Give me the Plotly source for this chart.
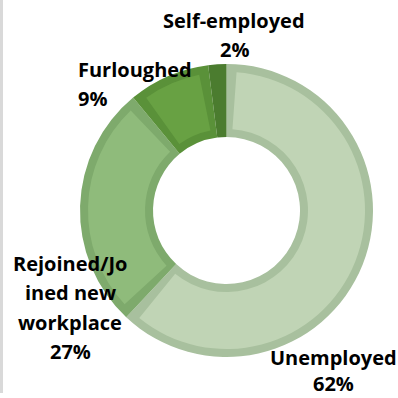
import plotly.graph_objects as go

categories = ["Unemployed", "Rejoined/Joined new workplace", "Furloughed", "Self-employed"]
label_text = ["Unemployed", "Rejoined/Jo<br>ined new<br>workplace", "Furloughed", "Self-employed"]
values = [62, 27, 9, 2]

fill_colors = ["#c0d4b5", "#8fbb7b", "#68a143", "#4b7c2f"]
border_colors = ["#a8c09e", "#7eaa6c", "#5a9139", "#4b7c2f"]

W = H = 398
cx, cy = 226.5, 210.5
R_out, R_in, bw = 146.5, 73.5, 8

def dom(r):
    return dict(x=[(cx - r) / W, (cx + r) / W], y=[1 - (cy + r) / H, 1 - (cy - r) / H])

total = sum(values)
gap = (bw / ((R_out + R_in) / 2)) / (2 * 3.14159265) * total * 2
vals_b, cols_b = [], []
for v, c in zip(values, fill_colors):
    f = max(v - gap, 0)
    g = (v - f) / 2
    vals_b += [g, f, g]
    cols_b += ["rgba(0,0,0,0)", c, "rgba(0,0,0,0)"]

fig = go.Figure()
fig.add_trace(go.Pie(
    values=values, labels=categories, sort=False, direction="clockwise", rotation=0,
    hole=R_in / R_out, domain=dom(R_out),
    marker=dict(colors=border_colors, line=dict(width=0)),
    textinfo="none", hoverinfo="label+percent", showlegend=False,
))
fig.add_trace(go.Pie(
    values=vals_b, sort=False, direction="clockwise", rotation=0,
    hole=(R_in + bw) / (R_out - bw), domain=dom(R_out - bw),
    marker=dict(colors=cols_b, line=dict(width=0)),
    textinfo="none", hoverinfo="skip", showlegend=False,
))

font = dict(family="Open Sans, sans-serif", size=20, color="#000000")
label_pos = [(333, 357, "center", 26.5), (70, 263, "center", 29.5), (77, 69, "left", 29.5), (234, 20, "center", 29.5)]
for txt, v, (x, y, al, line_h) in zip(label_text, values, label_pos):
    lines = txt.split("<br>") + [f"{v}%"]
    for i, ln in enumerate(lines):
        fig.add_annotation(x=x / W, y=1 - (y + i * line_h) / H, xref="paper", yref="paper",
                           text=f"<b>{ln}</b>", showarrow=False,
                           xanchor="left" if al == "left" else "center",
                           yanchor="middle", font=font, borderpad=0)

fig.add_shape(type="rect", xref="paper", yref="paper", x0=0, x1=3 / W, y0=1 - 393 / H, y1=1,
              fillcolor="#d9d9d9", line=dict(width=0), layer="below")

fig.update_layout(width=W, height=H, margin=dict(l=0, r=0, t=0, b=0),
                  paper_bgcolor="white", plot_bgcolor="white")
fig.write_html("out.html")
